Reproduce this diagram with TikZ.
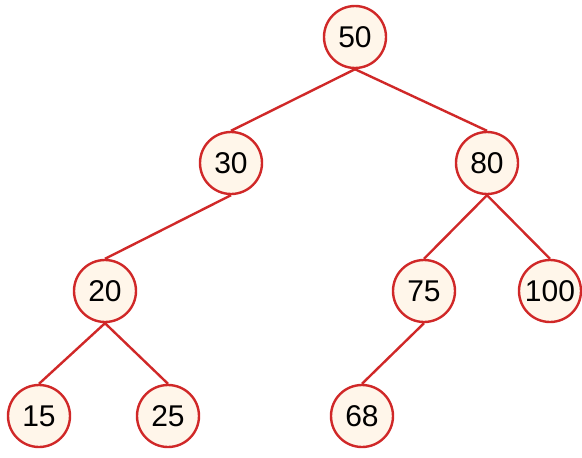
\documentclass[tikz,border=0pt]{standalone}
\usepackage{fontspec}
\setmainfont{Liberation Sans}
\definecolor{edgered}{HTML}{D02828}
\definecolor{nodefill}{HTML}{FFF6EA}
\begin{document}
\begin{tikzpicture}[x=1pt,y=1pt,
  treenode/.style={circle, draw=edgered, fill=nodefill, line width=2.4pt, minimum size=62pt, inner sep=0pt, font=\fontsize{30}{32}\selectfont},
  treeedge/.style={draw=edgered, line width=2.4pt}]
\useasboundingbox (0,0) rectangle (582,-458);
\node[treenode] (n50) at (355,-37) {50};
\node[treenode] (n30) at (231,-163) {30};
\node[treenode] (n80) at (487,-163) {80};
\node[treenode] (n20) at (105,-291) {20};
\node[treenode] (n75) at (424,-291) {75};
\node[treenode] (n100) at (550,-291) {100};
\node[treenode] (n15) at (39,-416) {15};
\node[treenode] (n25) at (168,-416) {25};
\node[treenode] (n68) at (362,-416) {68};
\draw[treeedge] (n50.south) -- (n30.north);
\draw[treeedge] (n50.south) -- (n80.north);
\draw[treeedge] (n30.south) -- (n20.north);
\draw[treeedge] (n80.south) -- (n75.north);
\draw[treeedge] (n80.south) -- (n100.north);
\draw[treeedge] (n20.south) -- (n15.north);
\draw[treeedge] (n20.south) -- (n25.north);
\draw[treeedge] (n75.south) -- (n68.north);
\end{tikzpicture}
\end{document}
